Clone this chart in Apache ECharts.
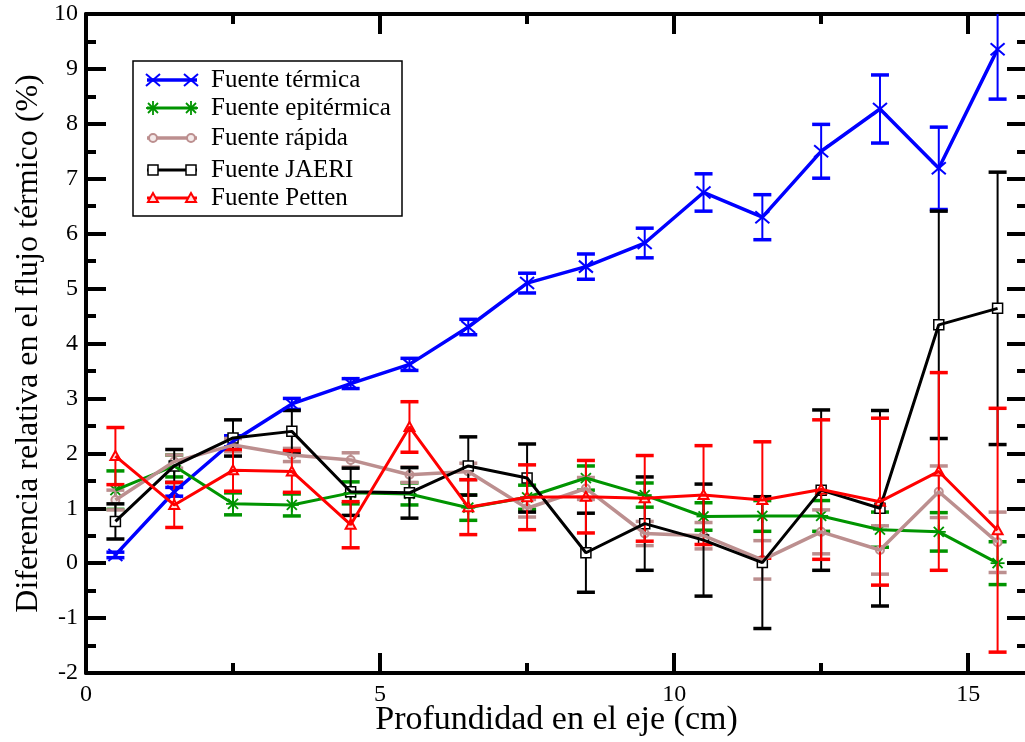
<!DOCTYPE html>
<html>
<head>
<meta charset="utf-8">
<script src="https://cdn.jsdelivr.net/npm/echarts@6/dist/echarts.min.js"></script>
<style>html,body{margin:0;padding:0;background:#fff;}#chart{width:1025px;height:742px;}</style>
</head>
<body>
<div id="chart"></div>
<script>
// ---- data ----
const depth = [0.5, 1.5, 2.5, 3.5, 4.5, 5.5, 6.5, 7.5, 8.5, 9.5, 10.5, 11.5, 12.5, 13.5, 14.5, 15.5];

const termica    = [0.15, 1.30, 2.22, 2.90, 3.27, 3.62, 4.30, 5.10, 5.40, 5.83, 6.75, 6.30, 7.50, 8.27, 7.19, 9.36];
const termicaErr = [0.05, 0.08, 0.10, 0.10, 0.09, 0.11, 0.14, 0.18, 0.23, 0.27, 0.34, 0.41, 0.49, 0.62, 0.75, 0.91];

const epitermica    = [1.33, 1.77, 1.08, 1.06, 1.28, 1.26, 1.01, 1.20, 1.55, 1.24, 0.85, 0.86, 0.86, 0.61, 0.57, 0.00];
const epitermicaErr = [0.35, 0.20, 0.20, 0.20, 0.20, 0.20, 0.23, 0.22, 0.22, 0.22, 0.25, 0.28, 0.28, 0.32, 0.35, 0.39];

const rapida    = [1.15, 1.85, 2.15, 1.97, 1.88, 1.61, 1.67, 1.00, 1.36, 0.54, 0.50, 0.06, 0.57, 0.24, 1.30, 0.38];
const rapidaErr = [0.18, 0.12, 0.12, 0.12, 0.13, 0.14, 0.15, 0.16, 0.20, 0.22, 0.24, 0.35, 0.40, 0.44, 0.47, 0.55];

const jaeri    = [0.76, 1.77, 2.28, 2.40, 1.30, 1.28, 1.77, 1.55, 0.19, 0.72, 0.42, 0.01, 1.33, 1.00, 4.34, 4.64];
const jaeriErr = [0.32, 0.30, 0.33, 0.38, 0.43, 0.46, 0.53, 0.62, 0.72, 0.85, 1.02, 1.20, 1.46, 1.78, 2.07, 2.48];

const petten    = [1.95, 1.06, 1.69, 1.67, 0.70, 2.48, 1.02, 1.20, 1.21, 1.18, 1.24, 1.15, 1.34, 1.12, 1.67, 0.60];
const pettenErr = [0.52, 0.41, 0.38, 0.38, 0.42, 0.46, 0.50, 0.59, 0.66, 0.78, 0.90, 1.06, 1.27, 1.52, 1.80, 2.22];

const seriesNames = ['Fuente térmica', 'Fuente epitérmica', 'Fuente rápida', 'Fuente JAERI', 'Fuente Petten'];
const xTitle = 'Profundidad en el eje (cm)';
const yTitle = 'Diferencia relativa en el flujo térmico (%)';

// ---- styles ----
const FONT = '"Liberation Serif", "DejaVu Serif", serif';
const sets = [
  {name: seriesNames[0], vals: termica, errs: termicaErr, color: '#0000ff', marker: 'x', lw: 3.5},
  {name: seriesNames[1], vals: epitermica, errs: epitermicaErr, color: '#009400', marker: 'star', lw: 3},
  {name: seriesNames[2], vals: rapida, errs: rapidaErr, color: '#bc8f8f', marker: 'circle', lw: 3.5},
  {name: seriesNames[3], vals: jaeri, errs: jaeriErr, color: '#000000', marker: 'square', lw: 3},
  {name: seriesNames[4], vals: petten, errs: pettenErr, color: '#ff0000', marker: 'triangle', lw: 3}
];

function markerShapes(type, cx, cy, color) {
  const st = (w) => ({stroke: color, lineWidth: w, fill: null});
  switch (type) {
    case 'x':
      return [
        {type: 'line', shape: {x1: cx - 7, y1: cy - 6, x2: cx + 7, y2: cy + 6}, style: st(2)},
        {type: 'line', shape: {x1: cx - 7, y1: cy + 6, x2: cx + 7, y2: cy - 6}, style: st(2)}
      ];
    case 'star':
      return [
        {type: 'line', shape: {x1: cx, y1: cy - 7, x2: cx, y2: cy + 7}, style: st(1.8)},
        {type: 'line', shape: {x1: cx - 7, y1: cy, x2: cx + 7, y2: cy}, style: st(1.8)},
        {type: 'line', shape: {x1: cx - 5, y1: cy - 5, x2: cx + 5, y2: cy + 5}, style: st(1.8)},
        {type: 'line', shape: {x1: cx - 5, y1: cy + 5, x2: cx + 5, y2: cy - 5}, style: st(1.8)}
      ];
    case 'circle':
      return [{type: 'circle', shape: {cx: cx, cy: cy, r: 4}, style: {stroke: color, lineWidth: 2, fill: '#f4eaea'}}];
    case 'square':
      return [{type: 'rect', shape: {x: cx - 5, y: cy - 5, width: 10, height: 10}, style: {stroke: color, lineWidth: 1.5, fill: '#ffffff'}}];
    case 'triangle':
      return [{type: 'polygon', shape: {points: [[cx, cy - 5], [cx - 5, cy + 4], [cx + 5, cy + 4]]}, style: {stroke: color, lineWidth: 2, fill: '#ffdddd'}}];
  }
  return [];
}

function makeErrorSeries(s) {
  return {
    type: 'custom',
    name: s.name + ' err',
    clip: true,
    silent: true,
    data: depth.map((x, i) => [x, s.vals[i], s.errs[i]]),
    encode: {x: 0, y: 1},
    renderItem: function (params, api) {
      const x = api.value(0), y = api.value(1), e = api.value(2);
      const c = api.coord([x, y]);
      const hi = api.coord([x, y + e]);
      const lo = api.coord([x, y - e]);
      const cw = 9;
      const children = [
        {type: 'line', shape: {x1: hi[0], y1: hi[1], x2: lo[0], y2: lo[1]}, style: {stroke: s.color, lineWidth: 2}},
        {type: 'line', shape: {x1: hi[0] - cw, y1: hi[1], x2: hi[0] + cw, y2: hi[1]}, style: {stroke: s.color, lineWidth: 3.5}},
        {type: 'line', shape: {x1: lo[0] - cw, y1: lo[1], x2: lo[0] + cw, y2: lo[1]}, style: {stroke: s.color, lineWidth: 3.5}}
      ].concat(markerShapes(s.marker, c[0], c[1], s.color));
      return {type: 'group', children: children};
    }
  };
}

function makeLineSeries(s) {
  return {
    type: 'line',
    name: s.name,
    data: depth.map((x, i) => [x, s.vals[i]]),
    symbol: 'none',
    silent: true,
    lineStyle: {color: s.color, width: s.lw},
    animation: false
  };
}

const series = [];
sets.forEach(s => { series.push(makeErrorSeries(s)); series.push(makeLineSeries(s)); });

// legend via graphics
const legendRowsY = [80, 108, 138, 170, 198];
const legendChildren = [
  {type: 'rect', shape: {x: 133, y: 61, width: 269, height: 155}, style: {stroke: '#000', lineWidth: 1.5, fill: '#fff'}}
];
sets.forEach((s, i) => {
  const y = legendRowsY[i];
  legendChildren.push({type: 'line', shape: {x1: 147, y1: y, x2: 197, y2: y}, style: {stroke: s.color, lineWidth: s.lw}});
  legendChildren.push(...markerShapes(s.marker, 153, y, s.color));
  legendChildren.push(...markerShapes(s.marker, 191, y, s.color));
  legendChildren.push({type: 'text', style: {x: 211, y: y, text: s.name, font: '25px ' + FONT, fill: '#000', textVerticalAlign: 'middle'}});
});

const tickStyle = {color: '#000', width: 4};
function axisCommon(extra) {
  return Object.assign({
    axisLine: {show: true, onZero: false, lineStyle: {color: '#000', width: 4}},
    axisTick: {show: true, inside: true, length: 20, lineStyle: tickStyle},
    minorTick: {show: true, splitNumber: 2, length: 10, lineStyle: tickStyle},
    splitLine: {show: false},
    minorSplitLine: {show: false}
  }, extra);
}

const chart = echarts.init(document.getElementById('chart'), null, {renderer: 'canvas'});
chart.setOption({
  animation: false,
  backgroundColor: '#fff',
  grid: {left: 86, top: 14, width: 941, height: 659, containLabel: false, outerBoundsMode: 'none'},
  xAxis: [
    axisCommon({type: 'value', min: 0, max: 16, interval: 5, position: 'bottom',
      axisLabel: {show: true, showMaxLabel: false, fontFamily: FONT, fontSize: 24, color: '#000', margin: 10},
      name: xTitle, nameLocation: 'middle', nameGap: 30, nameMoveOverlap: false,
      nameTextStyle: {fontFamily: FONT, fontSize: 34, color: '#000'}}),
    axisCommon({type: 'value', min: 0, max: 16, interval: 5, position: 'top', axisLabel: {show: false}})
  ],
  yAxis: [
    axisCommon({type: 'value', min: -2, max: 10, interval: 1, position: 'left',
      axisLabel: {show: true, fontFamily: FONT, fontSize: 24, color: '#000', margin: 8},
      name: yTitle, nameLocation: 'middle', nameGap: 41, nameRotate: 90, nameMoveOverlap: false,
      nameTextStyle: {fontFamily: FONT, fontSize: 32, color: '#000'}}),
    axisCommon({type: 'value', min: -2, max: 10, interval: 1, position: 'right', axisLabel: {show: false}})
  ],
  series: series,
  graphic: [{type: 'group', z: 100, children: legendChildren}]
});
</script>
</body>
</html>
